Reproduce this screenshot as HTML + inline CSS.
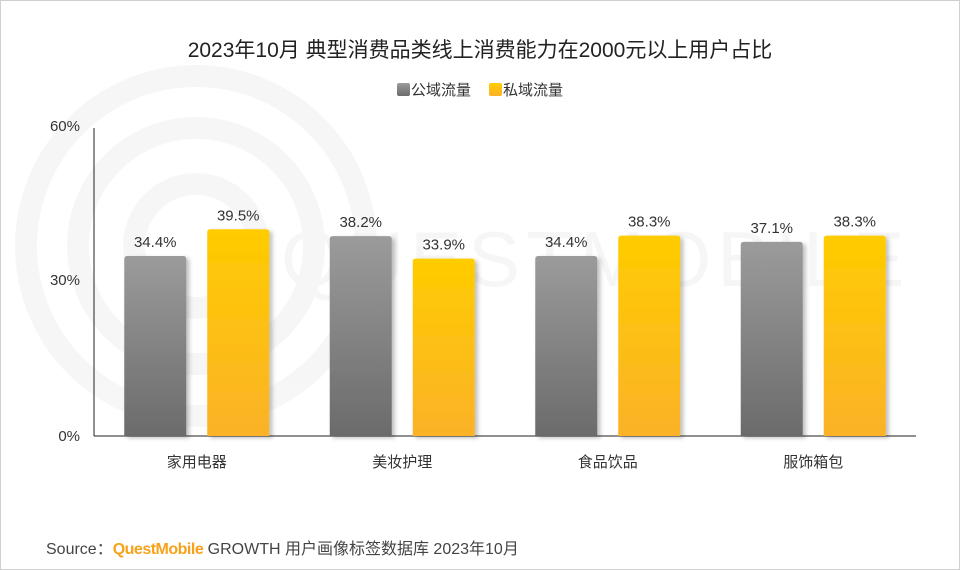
<!DOCTYPE html>
<html><head><meta charset="utf-8"><style>
html,body{margin:0;padding:0;background:#fff}
#wrap{position:relative;width:958px;height:568px;border:1px solid #d0d0d0;font-family:"Liberation Sans","Noto Sans CJK SC",sans-serif;overflow:hidden}
svg{position:absolute;left:0;top:0}
</style></head><body>
<div id="wrap">
<svg id="chart" width="958" height="568">
<defs>
<linearGradient id="gGray" x1="0" y1="0" x2="0" y2="1"><stop offset="0" stop-color="#9b9b9b"/><stop offset="1" stop-color="#6b6b6b"/></linearGradient>
<linearGradient id="gYel" x1="0" y1="0" x2="0" y2="1"><stop offset="0" stop-color="#ffcc00"/><stop offset="1" stop-color="#fbb228"/></linearGradient>
<filter id="sh" x="-20%" y="-10%" width="150%" height="130%"><feDropShadow dx="3" dy="2" stdDeviation="2" flood-color="#000" flood-opacity="0.25"/></filter>
</defs>
<g opacity="0.03" fill="none" stroke="#000">
<circle cx="195" cy="245" r="170" stroke-width="22"/>
<circle cx="195" cy="245" r="118" stroke-width="22"/>
<circle cx="195" cy="245" r="62" stroke-width="22"/>
<text x="280" y="285" font-size="78" fill="#000" stroke="none" letter-spacing="6">QUESTMOBILE</text>
</g>
<text x="479" y="56" text-anchor="middle" font-size="21" fill="#222">2023年10月 典型消费品类线上消费能力在2000元以上用户占比</text>
<g>
<rect x="396" y="82" width="13" height="13" rx="2" fill="url(#gGray)"/>
<text x="410" y="94" font-size="15" fill="#333">公域流量</text>
<rect x="488" y="82" width="13" height="13" rx="2" fill="url(#gYel)"/>
<text x="502" y="94" font-size="15" fill="#333">私域流量</text>
</g>
<g id="plot"></g>
<text x="45" y="553" font-size="16" fill="#444">Source：<tspan fill="#f7a21b" font-weight="bold" letter-spacing="-0.5">QuestMobile</tspan> GROWTH 用户画像标签数据库 2023年10月</text>
</svg>
</div>
<script>
const categories=["家用电器","美妆护理","食品饮品","服饰箱包"];
const publicVals=[34.4,38.2,34.4,37.1];
const privateVals=[39.5,33.9,38.3,38.3];
const yTicks=[0,30,60];
const NS="http://www.w3.org/2000/svg";
const g=document.getElementById('plot');
const x0=93,x1=915,y0=435,yTop=121,yMax=60;
const y=v=>y0-(v/yMax)*(y0-yTop);
const band=(x1-x0)/categories.length;
function mk(t,a){const e=document.createElementNS(NS,t);for(const k in a)e.setAttribute(k,a[k]);g.appendChild(e);return e;}
yTicks.forEach(t=>{
  const e=mk('text',{x:x0-14,y:y(t)+5+(t===60?4:t===30?1:0),'text-anchor':'end','font-size':15,fill:'#333'});
  e.textContent=t+'%';
  
  
});
const ax=mk('line',{x1:x0,y1:127,x2:x0,y2:y0,stroke:'#222','stroke-width':1});


const bx=mk('line',{x1:x0,y1:y0,x2:x1,y2:y0,stroke:'#222','stroke-width':1});


const bw=62,gap=21;
categories.forEach((c,i)=>{
  const cx=x0+band*(i+0.5);
  [[publicVals[i],'url(#gGray)',cx-gap/2-bw,'bar-public'],[privateVals[i],'url(#gYel)',cx+gap/2,'bar-private']].forEach(([v,f,bxp,nm])=>{
    const r=mk('path',{d:`M${bxp},${y0} V${y(v)+3} Q${bxp},${y(v)} ${bxp+3},${y(v)} H${bxp+bw-3} Q${bxp+bw},${y(v)} ${bxp+bw},${y(v)+3} V${y0} Z`,fill:f,filter:'url(#sh)'});
    
    
    const t=mk('text',{x:bxp+bw/2,y:y(v)-9,'text-anchor':'middle','font-size':15,fill:'#333'});
    t.textContent=v.toFixed(1)+'%';
    
    
  });
  const l=mk('text',{x:cx,y:y0+31,'text-anchor':'middle','font-size':15,fill:'#333'});
  l.textContent=c;
  
  
});
</script>
</body></html>
